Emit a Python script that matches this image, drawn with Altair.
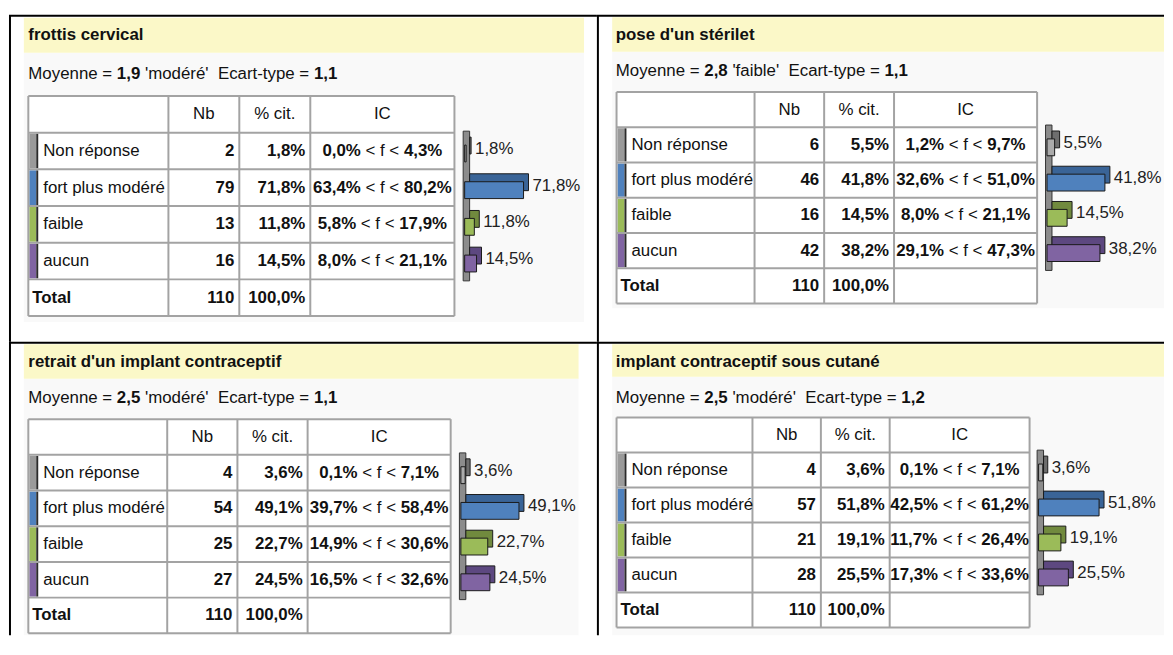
import altair as alt
import pandas as pd

# ---------------- data ----------------
titles = ["frottis cervical", "pose d'un stérilet",
          "retrait d'un implant contraceptif", "implant contraceptif sous cutané"]
moy_val = ["1,9", "2,8", "2,5", "2,5"]
moy_lab = ["modéré", "faible", "modéré", "modéré"]
ecart = ["1,1", "1,1", "1,1", "1,2"]
categories = ["Non réponse", "fort plus modéré", "faible", "aucun"]
headers = ["Nb", "% cit.", "IC"]
nb = [[2, 79, 13, 16], [6, 46, 16, 42], [4, 54, 25, 27], [4, 57, 21, 28]]
pct = [[1.8, 71.8, 11.8, 14.5], [5.5, 41.8, 14.5, 38.2],
       [3.6, 49.1, 22.7, 24.5], [3.6, 51.8, 19.1, 25.5]]
ic_low = [[0.0, 63.4, 5.8, 8.0], [1.2, 32.6, 8.0, 29.1],
          [0.1, 39.7, 14.9, 16.5], [0.1, 42.5, 11.7, 17.3]]
ic_high = [[4.3, 80.2, 17.9, 21.1], [9.7, 51.0, 21.1, 47.3],
           [7.1, 58.4, 30.6, 32.6], [7.1, 61.2, 26.4, 33.6]]
total_nb = [110, 110, 110, 110]
total_pct = [100.0, 100.0, 100.0, 100.0]

# ---------------- styles ----------------
FONT = "Liberation Sans"
FS = 17
TXT = "#111111"
strip_colors = ["#9a9a9a", "#4F81BD", "#9BBB59", "#8064A2"]
front_colors = ["#ababab", "#4F81BD", "#9BBB59", "#8064A2"]
back_colors = ["#6e6e6e", "#3A6497", "#718A3E", "#5D4880"]
GRID = "#a3a3a3"
YELLOW = "#FBF8C8"
BG = "#f9f9f9"

REG_W = {" ": 278, ",": 278, "%": 889, "<": 584, "f": 278, "'": 191, "=": 584,
         "M": 833, "o": 556, "y": 500, "e": 556, "n": 556, "m": 833, "d": 556,
         "é": 556, "r": 333, "E": 667, "c": 500, "a": 556, "t": 278, "-": 333,
         "p": 556, "i": 222, "b": 556, "l": 222}
BOLD_W = {",": 278, "%": 889, ".": 278, " ": 278}


def tw(s, bold=False):
    t = BOLD_W if bold else REG_W
    return sum(t.get(ch, 556) for ch in s) * FS / 1000.0


def fmt(v):
    return f"{v:.1f}".replace(".", ",") + "%"


LAYOUTS = [
    dict(W=593, H=334, rules=[(0, 5, 593, 5), (1, 5, 1, 334)], yellow=(15, 580, 7, 42.5),
         bg=(15, 580, 42.5, 314), title=(19.5, 25), sub=(19.5, 63.5), left=19.5,
         cols=(160.8, 232.3, 303.9), right=449.3, top=86, rowh=37, axis=459.6, barlen=59.4),
    dict(W=572, H=334, rules=[(0, 5, 572, 5), (1, 5, 1, 334)], yellow=(15.4, 572, 6.5, 41.5),
         bg=(15.4, 572, 41.5, 300), title=(19, 25), sub=(19, 61), left=19.8,
         cols=(159, 229.2, 299.7), right=444, top=82, rowh=35.55, axis=454, barlen=58.4),
    dict(W=593, H=296, rules=[(0, 1, 593, 1), (1, 0, 1, 296)], yellow=(15, 574.5, 2.5, 37.3),
         bg=(15, 574.5, 37.3, 296), title=(19.5, 20.7), sub=(19.5, 57), left=19.5,
         cols=(159.6, 230.4, 301.2), right=445.5, top=78, rowh=36, axis=455.8, barlen=58.6),
    dict(W=572, H=296, rules=[(0, 1, 572, 1), (1, 0, 1, 296)], yellow=(15.4, 572, 2.5, 35.3),
         bg=(15.4, 572, 35.3, 296), title=(19, 20.3), sub=(19, 56.3), left=19.8,
         cols=(156.9, 225.9, 295.3), right=436.4, top=76.3, rowh=35.3, axis=445.5, barlen=61),
]


def build_panel(i, L):
    W, H = L["W"], L["H"]
    px = alt.Scale(domain=[0, W], nice=False, zero=False)
    py = alt.Scale(domain=[0, H], reverse=True, nice=False, zero=False)
    # value scale: 0 sits on the bar axis, the largest value reaches barlen pixels
    k = max(pct[i]) / L["barlen"]
    vx = alt.Scale(domain=[-L["axis"] * k, (W - L["axis"]) * k], nice=False, zero=False)

    left, right, top, rh = L["left"], L["right"], L["top"], L["rowh"]
    c1, c2, c3 = L["cols"]
    bottom = top + 6 * rh
    centers = [top + rh * (r + 1) + rh / 2 for r in range(4)]

    rects = []
    bx0, bx1, by0, by1 = L["bg"]
    rects.append(dict(x=bx0, x2=bx1, y=by0, y2=by1, fill=BG))
    yx0, yx1, yy0, yy1 = L["yellow"]
    rects.append(dict(x=yx0, x2=yx1, y=yy0, y2=yy1, fill=YELLOW))
    rects.append(dict(x=left, x2=right, y=top, y2=bottom, fill="#ffffff"))
    for r in range(4):
        rt = top + rh * (r + 1)
        rects.append(dict(x=left + 1, x2=left + 8, y=rt + 1, y2=rt + rh - 1, fill=strip_colors[r]))
        rects.append(dict(x=left + 8, x2=left + 10, y=rt + 1, y2=rt + rh - 1, fill="#2b2b2b"))
    rect_df = pd.DataFrame(rects)

    lines = []
    for kk in range(7):
        yy = top + rh * kk
        lines.append(dict(x=left, x2=right, y=yy, y2=yy, c=GRID, w=2))
    for xx in (left, c1, c2, c3, right):
        lines.append(dict(x=xx, x2=xx, y=top, y2=bottom, c=GRID, w=2))
    for (a, b, c, d) in L["rules"]:
        lines.append(dict(x=a, x2=c, y=b, y2=d, c="#000000", w=2))
    line_df = pd.DataFrame(lines)

    left_reg, left_bold, right_bold, center_reg = [], [], [], []
    tx, ty = L["title"]
    left_bold.append(dict(x=tx, y=ty, t=titles[i]))
    sx, sy = L["sub"]
    pieces = [("Moyenne =", False), (" ", False), (moy_val[i], True), (" ", False),
              (f"'{moy_lab[i]}'", False), ("  ", False), ("Ecart-type =", False),
              (" ", False), (ecart[i], True)]
    cx = sx
    for s, b in pieces:
        if s.strip():
            (left_bold if b else left_reg).append(dict(x=cx, y=sy, t=s))
        cx += tw(s, b)
    hc = top + rh / 2
    for h, a, b in zip(headers, (c1, c2, c3), (c2, c3, right)):
        center_reg.append(dict(x=(a + b) / 2, y=hc, t=h))
    ic_c = (c3 + right) / 2
    for r in range(4):
        yc = centers[r]
        left_reg.append(dict(x=left + 15, y=yc, t=categories[r]))
        right_bold.append(dict(x=c2 - 5, y=yc, t=str(nb[i][r])))
        right_bold.append(dict(x=c3 - 5, y=yc, t=fmt(pct[i][r])))
        lo, hi = fmt(ic_low[i][r]), fmt(ic_high[i][r])
        mid = "< f <"
        wl, wm, wh = tw(lo, True), tw(" " + mid + " "), tw(hi, True)
        st = ic_c - (wl + wm + wh) / 2
        left_bold.append(dict(x=st, y=yc, t=lo))
        left_reg.append(dict(x=st + wl + tw(" "), y=yc, t=mid))
        left_bold.append(dict(x=st + wl + wm, y=yc, t=hi))
    tc = top + rh * 5 + rh / 2
    left_bold.append(dict(x=left + 4, y=tc, t="Total"))
    right_bold.append(dict(x=c2 - 5, y=tc, t=str(total_nb[i])))
    right_bold.append(dict(x=c3 - 5, y=tc, t=fmt(total_pct[i])))

    def X(f):
        return alt.X(f"{f}:Q", scale=px, axis=None)

    def Y(f):
        return alt.Y(f"{f}:Q", scale=py, axis=None)

    layers = []
    layers.append(alt.Chart(rect_df).mark_rect(strokeWidth=0).encode(
        x=X("x"), x2="x2", y=Y("y"), y2="y2", color=alt.Color("fill:N", scale=None)))
    layers.append(alt.Chart(line_df).mark_rule().encode(
        x=X("x"), x2="x2", y=Y("y"), y2="y2", color=alt.Color("c:N", scale=None),
        strokeWidth=alt.StrokeWidth("w:Q", scale=None)))

    def text_layer(rows, align, weight):
        df = pd.DataFrame(rows)
        return alt.Chart(df).mark_text(align=align, baseline="middle", font=FONT,
                                       fontSize=FS, fontWeight=weight, color=TXT).encode(
            x=X("x"), y=Y("y"), text="t:N")

    layers.append(text_layer(left_reg, "left", "normal"))
    layers.append(text_layer(left_bold, "left", "bold"))
    layers.append(text_layer(right_bold, "right", "bold"))
    layers.append(text_layer(center_reg, "center", "normal"))

    wall_df = pd.DataFrame([dict(x=L["axis"] - 1.5, x2=L["axis"] + 5,
                                 y=centers[0] - 20, y2=centers[3] + 20)])
    layers.append(alt.Chart(wall_df).mark_rect(fill="#8c8c8c", stroke="#333333",
                                               strokeWidth=1).encode(
        x=X("x"), x2="x2", y=Y("y"), y2="y2"))
    bars_df = pd.DataFrame(dict(
        cat=categories, base=[0.0] * 4, val=pct[i],
        y=[c - 6 for c in centers], y2=[c + 11 for c in centers], ly=[c - 2 for c in centers],
        front=front_colors, back=back_colors, lab=[fmt(v) for v in pct[i]]))
    bx = alt.X("base:Q", scale=vx, axis=None)
    layers.append(alt.Chart(bars_df).mark_rect(
        xOffset=5, x2Offset=5, yOffset=-8, y2Offset=-8, stroke="#1a1a1a", strokeWidth=1).encode(
        x=bx, x2="val", y=Y("y"), y2="y2", color=alt.Color("back:N", scale=None)))
    layers.append(alt.Chart(bars_df).mark_rect(stroke="#1a1a1a", strokeWidth=1).encode(
        x=bx, x2="val", y=Y("y"), y2="y2", color=alt.Color("front:N", scale=None)))
    layers.append(alt.Chart(bars_df).mark_text(
        align="left", baseline="middle", dx=9, font=FONT, fontSize=FS, color="#222222").encode(
        x=alt.X("val:Q", scale=vx, axis=None), y=Y("ly"), text="lab:N"))

    return alt.layer(*layers).resolve_scale(x="independent").properties(width=W, height=H)


panels = [build_panel(i, L) for i, L in enumerate(LAYOUTS)]
chart = alt.concat(*panels, columns=2, spacing=0, bounds="flush", padding=0).configure_view(stroke=None)

chart.save("out.html", embed_options={"renderer": "svg", "actions": False})
